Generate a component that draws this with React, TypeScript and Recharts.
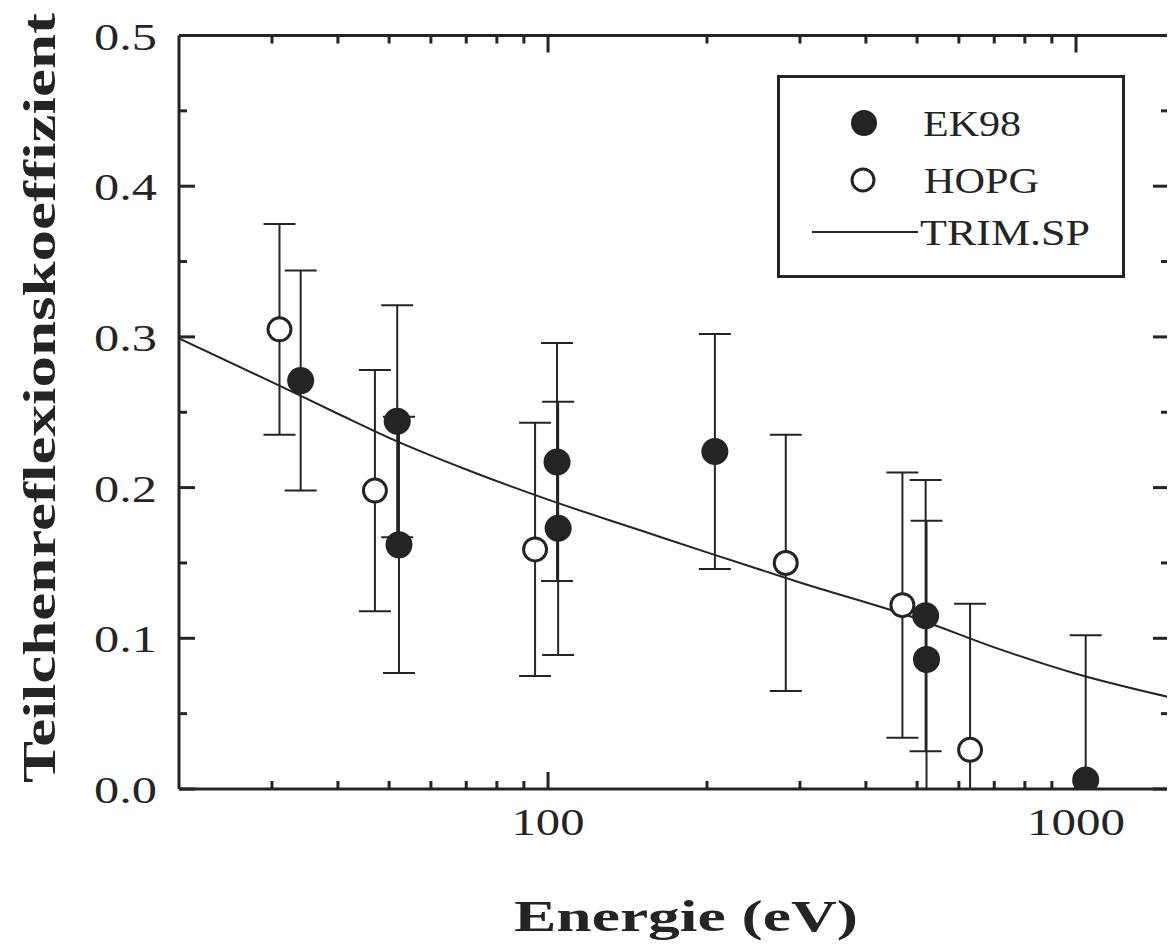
import React from 'react';
import {
  ComposedChart, Scatter, Line, XAxis, YAxis, ErrorBar, Legend, Label
} from 'recharts';

const INK = '#242424';
const FONT = 'Liberation Serif, Times New Roman, Times, DejaVu Serif, serif';
const PLOT = { left: 171, top: 27.5, right: 1161, bottom: 781 };

// energies (eV), reflection coefficients and symmetric errors
const ek98E = [34, 51.8, 52.2, 104, 104.5, 207, 519, 521, 1043];
const ek98R = [0.271, 0.244, 0.162, 0.217, 0.173, 0.224, 0.115, 0.086, 0.006];
const ek98Err = [0.073, 0.077, 0.085, 0.079, 0.084, 0.078, 0.09, 0.092, 0.096];

const hopgE = [31, 47, 94.5, 282, 469, 630];
const hopgR = [0.305, 0.198, 0.159, 0.15, 0.122, 0.026];
const hopgErr = [0.07, 0.08, 0.084, 0.085, 0.088, 0.097];

// TRIM.SP calculation
const trimE = [20, 30, 40, 50, 70, 100, 150, 200, 300, 500, 700, 1000, 1500];
const trimR = [0.299, 0.27, 0.249, 0.233, 0.212, 0.192, 0.1715, 0.157, 0.137, 0.113, 0.094, 0.0765, 0.061];

const xTicks = [30, 40, 50, 60, 70, 80, 90, 100, 200, 300, 400, 500, 600, 700, 800, 900, 1000];
const xLabels = [100, 1000];
const yTicks = [0, 0.05, 0.1, 0.15, 0.2, 0.25, 0.3, 0.35, 0.4, 0.45, 0.5];
const yLabels = [0, 0.1, 0.2, 0.3, 0.4, 0.5];

const seriesNames = ['EK98', 'HOPG', 'TRIM.SP'];

// error bars stop at the lower axis, as in the plot
const withErr = (e, r, err) => ({ e, r, err: [Math.min(err, r), err] });
const ek98 = ek98E.map((e, i) => withErr(e, ek98R[i], ek98Err[i]));
const hopg = hopgE.map((e, i) => withErr(e, hopgR[i], hopgErr[i]));
const trim = trimE.map((e, i) => ({ e, r: trimR[i] }));

const isYLabel = (v) => yLabels.some((l) => Math.abs(l - v) < 1e-6);

const txt = { fontFamily: FONT };

const BottomTick = ({ x, y, payload }) => {
  const v = payload.value;
  const major = xLabels.includes(v);
  return (
    <g>
      <line x1={x} y1={y} x2={x} y2={y - (major ? 17 : 8)} stroke={INK} strokeWidth={3} />
      {major && (
        <text x={x} y={y + 46} textAnchor="middle" style={txt} fontSize={38} fill={INK}
          textLength={v === 1000 ? 98 : 73} lengthAdjust="spacingAndGlyphs">
          {v}
        </text>
      )}
    </g>
  );
};

const TopTick = ({ x, y, payload }) => {
  const major = xLabels.includes(payload.value);
  return <line x1={x} y1={y} x2={x} y2={y + (major ? 17 : 8)} stroke={INK} strokeWidth={3} />;
};

const LeftTick = ({ x, y, payload }) => {
  const v = payload.value;
  const major = isYLabel(v);
  return (
    <g>
      <line x1={x} y1={y} x2={x + (major ? 16 : 8)} y2={y} stroke={INK} strokeWidth={3} />
      {major && (
        <text x={x - 22} y={y + 14} textAnchor="end" style={txt} fontSize={38} fill={INK}
          textLength={63} lengthAdjust="spacingAndGlyphs">
          {v.toFixed(1)}
        </text>
      )}
    </g>
  );
};

const RightTick = ({ x, y, payload }) => {
  const major = isYLabel(payload.value);
  return <line x1={x} y1={y} x2={x - (major ? 16 : 8)} y2={y} stroke={INK} strokeWidth={3} />;
};

const PlotClip = () => (
  <clipPath id="plot-clip">
    <rect x={PLOT.left} y={PLOT.top} width={PLOT.right - PLOT.left} height={PLOT.bottom - PLOT.top} />
  </clipPath>
);

const FilledDot = ({ cx, cy }) => (
  <g>
    <defs><PlotClip /></defs>
    <circle cx={cx} cy={cy} r={13.5} fill={INK} clipPath="url(#plot-clip)" />
  </g>
);
const OpenDot = ({ cx, cy }) => (
  <circle cx={cx} cy={cy} r={11.5} fill="#fff" stroke={INK} strokeWidth={3} />
);

const XTitle = ({ viewBox }) => (
  <text x={viewBox.x + 507} y={923} textAnchor="middle" style={txt} fontWeight="bold"
    fontSize={44} fill={INK} textLength={344} lengthAdjust="spacingAndGlyphs">
    Energie (eV)
  </text>
);

const YTitle = () => (
  <text transform="translate(47,390) rotate(-90)" textAnchor="middle" style={txt}
    fontWeight="bold" fontSize={46} fill={INK} textLength={770} lengthAdjust="spacingAndGlyphs">
    Teilchenreflexionskoeffizient
  </text>
);

const LegendBox = () => (
  <svg width={348} height={203} style={{ display: 'block' }}>
    <rect x={1.5} y={1.5} width={345} height={200} fill="#fff" stroke={INK} strokeWidth={3} />
    <circle cx={87} cy={48} r={13} fill={INK} />
    <text x={146} y={61} style={txt} fontSize={36} fill={INK} textLength={98}
      lengthAdjust="spacingAndGlyphs">{seriesNames[0]}</text>
    <circle cx={86} cy={105} r={11} fill="#fff" stroke={INK} strokeWidth={3} />
    <text x={147} y={118} style={txt} fontSize={36} fill={INK} textLength={115}
      lengthAdjust="spacingAndGlyphs">{seriesNames[1]}</text>
    <line x1={35} y1={157} x2={141} y2={157} stroke={INK} strokeWidth={2} />
    <text x={143} y={170} style={txt} fontSize={36} fill={INK} textLength={170}
      lengthAdjust="spacingAndGlyphs">{seriesNames[2]}</text>
  </svg>
);

export default function App() {
  return (
    <ComposedChart width={1167} height={940} margin={{ top: 26.5, right: 5, left: 0, bottom: 0 }}
      style={{ background: '#fff' }}>
      <XAxis dataKey="e" type="number" scale="log" domain={[20, 1500]} allowDataOverflow
        ticks={xTicks} interval={0} tickSize={0} tickMargin={0} tickLine={false}
        axisLine={{ stroke: INK, strokeWidth: 3 }} tick={BottomTick} height={159}>
        <Label content={XTitle} />
      </XAxis>
      <XAxis xAxisId="top" orientation="top" dataKey="e" type="number" scale="log"
        domain={[20, 1500]} allowDataOverflow ticks={xTicks} interval={0} tickSize={0}
        tickMargin={0} tickLine={false} axisLine={{ stroke: INK, strokeWidth: 3 }}
        tick={TopTick} height={1} />
      <YAxis dataKey="r" type="number" domain={[0, 0.5]} allowDataOverflow ticks={yTicks}
        interval={0} tickSize={0} tickMargin={0} tickLine={false}
        axisLine={{ stroke: INK, strokeWidth: 3 }} tick={LeftTick} width={171}>
        <Label content={YTitle} />
      </YAxis>
      <YAxis yAxisId="right" orientation="right" dataKey="r" type="number" domain={[0, 0.5]}
        allowDataOverflow ticks={yTicks} interval={0} tickSize={0} tickMargin={0}
        tickLine={false} axisLine={{ stroke: INK, strokeWidth: 3 }} tick={RightTick} width={1} />
      <Line data={trim} dataKey="r" type="monotone" stroke={INK} strokeWidth={2} dot={false}
        activeDot={false} isAnimationActive={false} legendType="none" name={seriesNames[2]} />
      <Scatter data={hopg} dataKey="r" name={seriesNames[1]} shape={OpenDot} isAnimationActive={false}>
        <ErrorBar dataKey="err" direction="y" width={16} strokeWidth={2} stroke={INK} />
      </Scatter>
      <Scatter data={ek98} dataKey="r" name={seriesNames[0]} shape={FilledDot} isAnimationActive={false}>
        <ErrorBar dataKey="err" direction="y" width={16} strokeWidth={2} stroke={INK} />
      </Scatter>
      <Legend layout="vertical" align="center" verticalAlign="middle" content={LegendBox}
        wrapperStyle={{ left: 769, top: 67, width: 348, height: 203 }} />
    </ComposedChart>
  );
}
